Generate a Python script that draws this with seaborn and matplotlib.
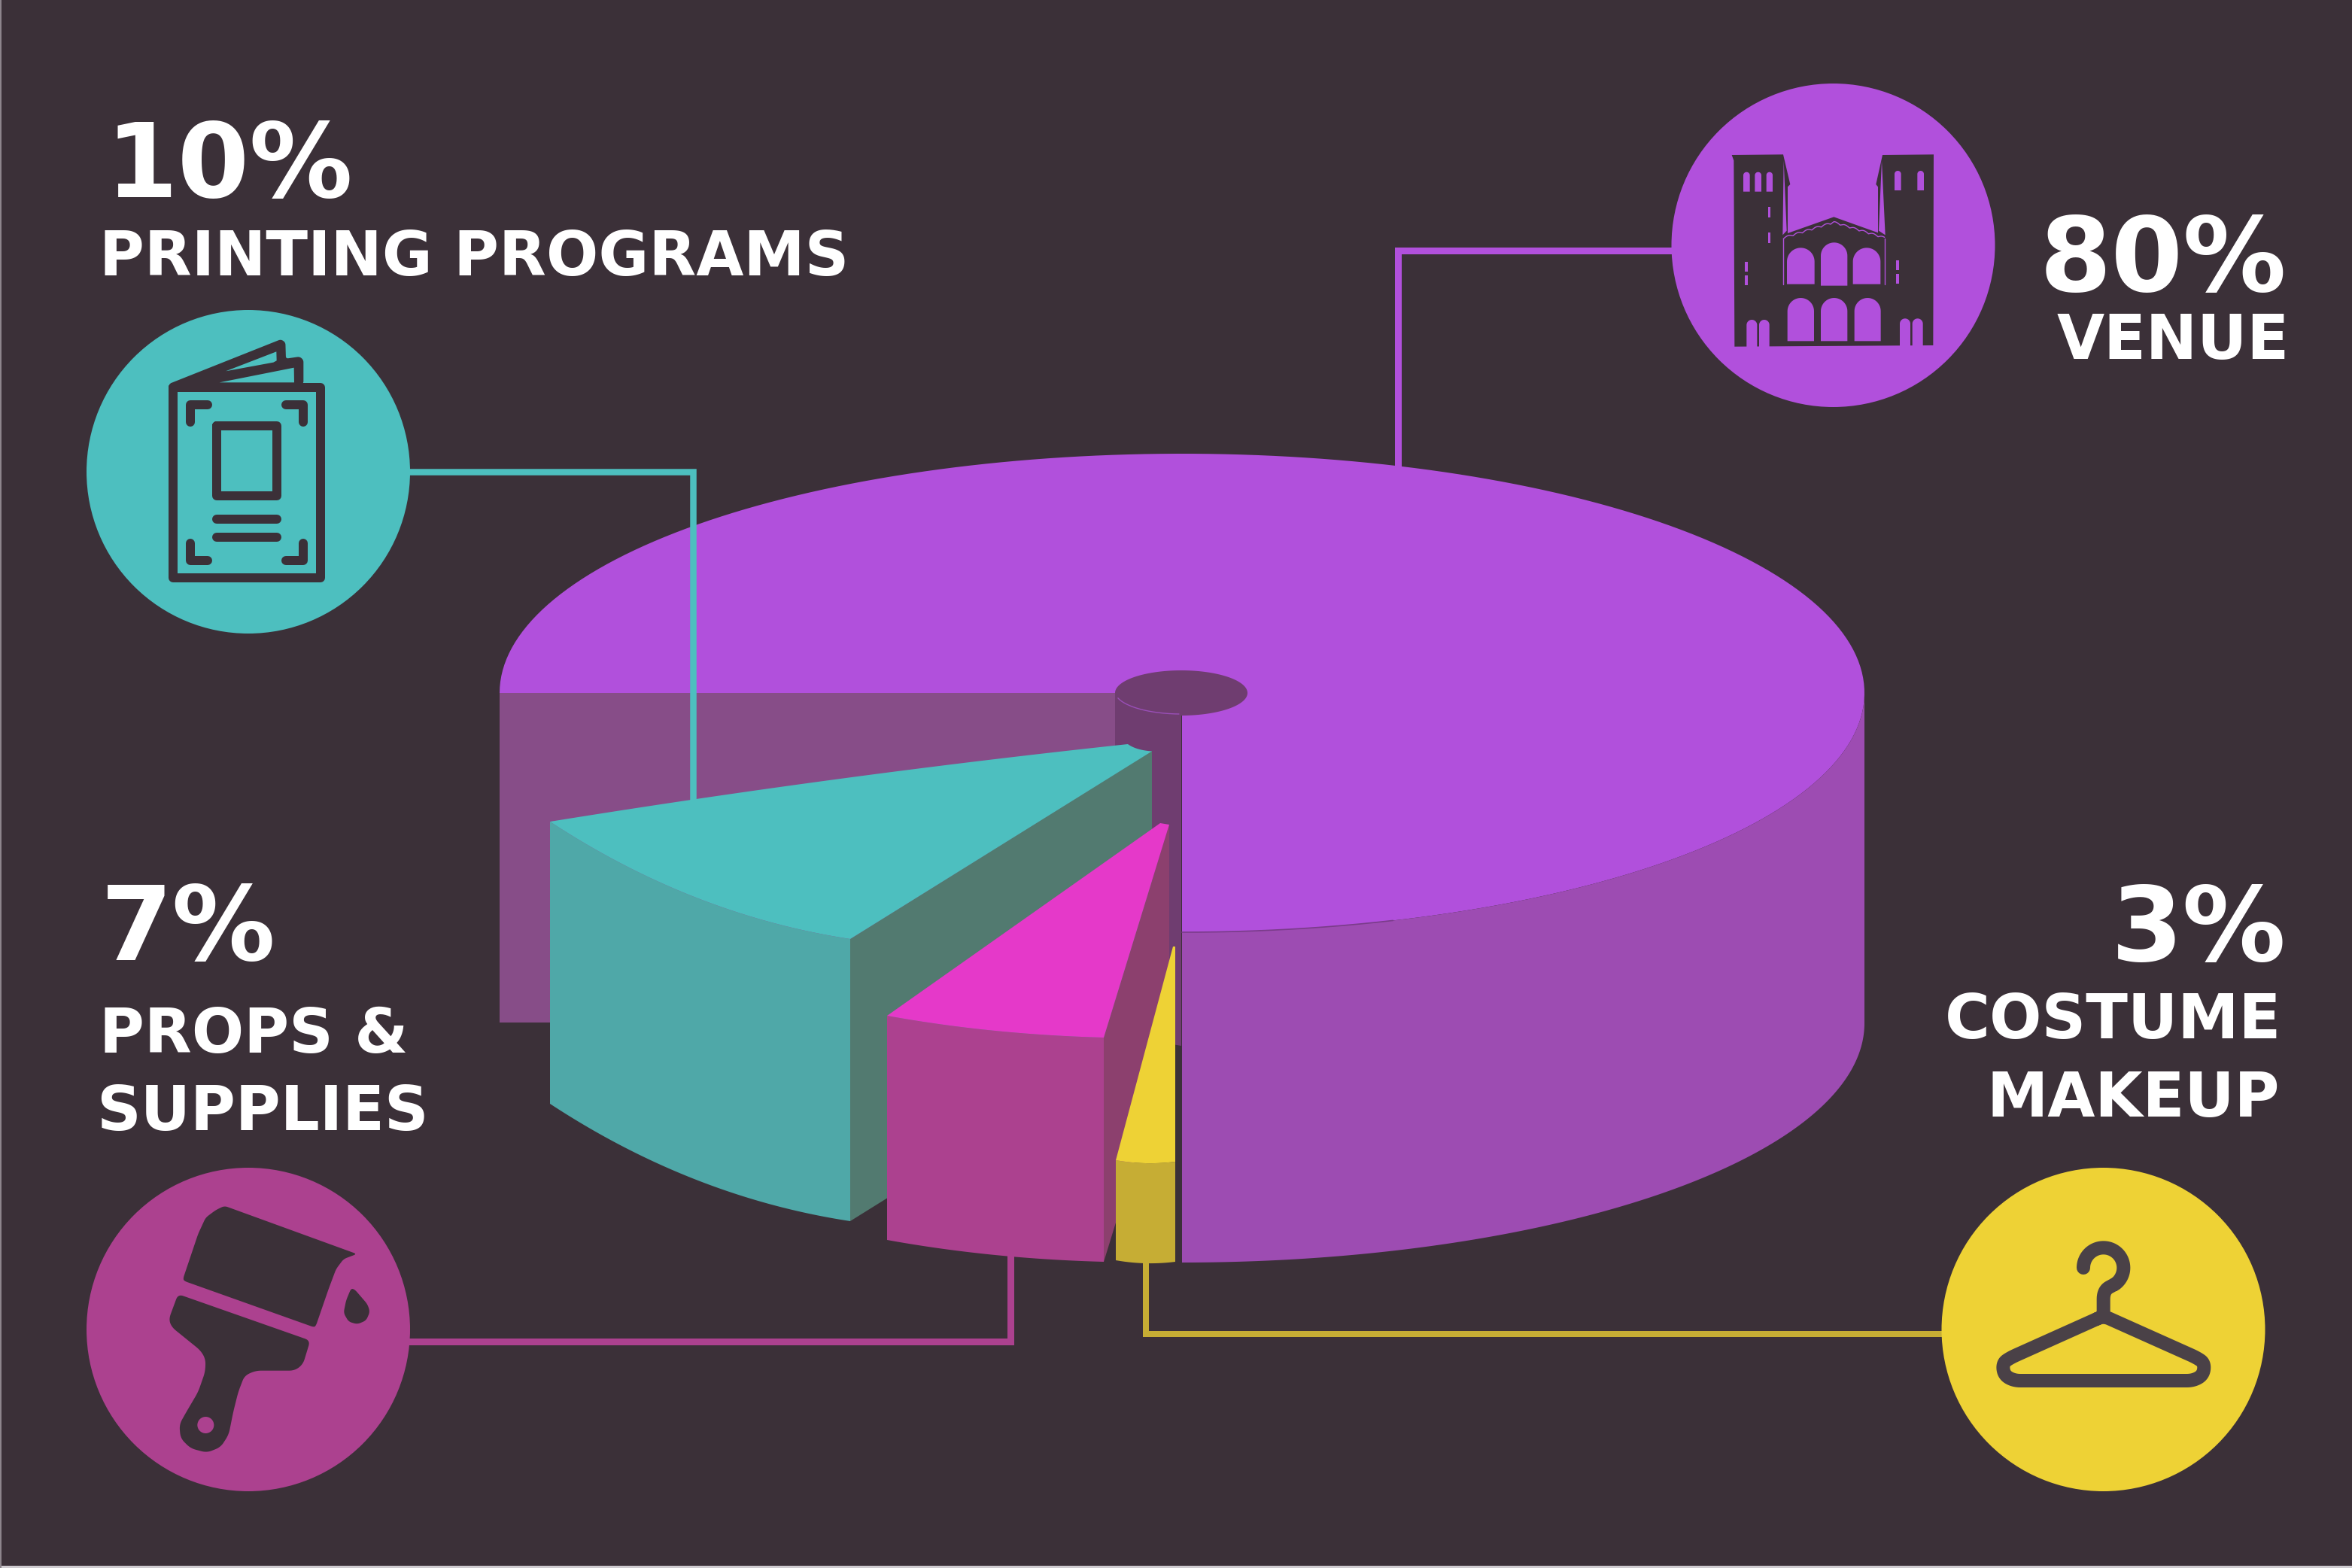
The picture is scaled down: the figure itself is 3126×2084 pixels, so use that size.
import numpy as np
import pandas as pd
import matplotlib.pyplot as plt
import seaborn as sns
from matplotlib.patches import Circle

# chart values
categories = ['VENUE', 'PRINTING PROGRAMS', 'PROPS & SUPPLIES', 'COSTUME MAKEUP']
shares = [80, 10, 7, 3]

BG = '#3b3038'
colors = {'VENUE': '#b150dc', 'PRINTING PROGRAMS': '#4dbfbf',
          'PROPS & SUPPLIES': '#ac418f', 'COSTUME MAKEUP': '#eed235'}

sns.set_theme(style='white')
plt.rcParams['font.family'] = ['DejaVu Sans']

fig = plt.figure(figsize=(15.63, 10.42), dpi=200, facecolor=BG)
ax = fig.add_axes([0, 0, 1, 1])
ax.set_facecolor(BG)


def ell(cx, cy, rx, ry, a0, a1, n=200):
    t = np.radians(np.linspace(a0, a1, n))
    return np.column_stack([cx + rx * np.cos(t), cy - ry * np.sin(t)])


def bez(p0, c, p1, n=60):
    t = np.linspace(0, 1, n)[:, None]
    return (1 - t) ** 2 * np.array(p0) + 2 * t * (1 - t) * np.array(c) + t ** 2 * np.array(p1)


def poly(pts, color, z):
    pts = np.asarray(pts, float)
    ax.fill(pts[:, 0], pts[:, 1], color=color, lw=0, zorder=z)


def rounded(pts, r, closed=True):
    # round every corner of a polyline with a small quadratic curve
    pts = np.asarray(pts, float)
    n = len(pts)
    out = []
    for i in range(n):
        if not closed and i in (0, n - 1):
            out.append(pts[i][None, :])
            continue
        p, a, b = pts[i], pts[i - 1], pts[(i + 1) % n]
        d0 = min(r, np.linalg.norm(a - p) / 2)
        d1 = min(r, np.linalg.norm(b - p) / 2)
        p0 = p + (a - p) / np.linalg.norm(a - p) * d0
        p1 = p + (b - p) / np.linalg.norm(b - p) * d1
        out.append(bez(p0, p, p1, 10))
    res = np.vstack(out)
    return np.vstack([res, res[:1]]) if closed else res


def leader(xs, ys, color, width, z):
    ax.plot(xs, ys, color=color, lw=width * 72 / 200, zorder=z,
            solid_joinstyle='miter', solid_capstyle='butt')


def stroke(pts, color, width, z=22):
    ax.plot(*np.asarray(pts).T, color=color, lw=width * 72 / 200, zorder=z,
            solid_capstyle='round', solid_joinstyle='round')


# --- venue (the big piece with the open quarter) ---
CX, CY, RX, RY, DEPTH = 1571, 921, 907, 318, 439
leader([2436, 1858, 1858], [332.5, 332.5, 640], colors['VENUE'], 9, 1)
poly([(664, CY), (1482, CY), (1482, 1359), (664, 1359)], '#874d88', 2)
poly([(1482, CY), (1570, CY), (1570, 1390), (1482, 1375)], '#6f3d70', 2)
top = ell(CX, CY, RX, RY, 180, -90)
poly(np.vstack([top, [(CX, CY)]]), colors['VENUE'], 3)
rim = ell(CX, CY, RX, RY, 0, -90)
poly(np.vstack([rim, rim[::-1] + [0, DEPTH]]), '#9d4cb2', 3)
ax.plot(*ell(CX, CY, RX, RY, -72, -90).T, color='#7a3c8a', lw=0.6, zorder=3.1)
hole = ell(CX - 1, CY, 88, 30, 0, 360)
poly(hole, '#6f3d70', 3.2)
poly([(1482, CY), (1570, CY), (1570, 1100), (1482, 1100)], '#6f3d70', 3.1)
ax.plot(*ell(CX - 1, CY - 2, 88, 30, 197, 268).T, color='#9a4fb8', lw=0.5, zorder=3.3)

# --- printing programs ---
leader([330, 920.5, 920.5], [627, 627, 1075], colors['PRINTING PROGRAMS'], 8.5, 4)
H = 375
poly([(1130, 1248), (1531, 998), (1531, 998 + H), (1130, 1248 + H)], '#527a70', 5)
front = bez((731, 1092), (920, 1216), (1130, 1248))
poly(np.vstack([front, front[::-1] + [0, H]]), '#4fa8a8', 5.1)
edge = np.vstack([bez((731, 1092), (1115, 1030), (1499, 989)), bez((1499, 989), (1510, 997), (1531, 998.5))])
poly(np.vstack([front, edge[::-1]]), colors['PRINTING PROGRAMS'], 5.2)

# --- props & supplies ---
leader([330, 1343, 1343], [1782.5, 1782.5, 1660], colors['PROPS & SUPPLIES'], 9, 6)
H = 298
poly([(1467, 1379), (1554, 1096), (1554, 1096 + H), (1467, 1379 + H)], '#8c406e', 7)
front = bez((1179, 1350), (1317, 1375), (1467, 1379))
poly(np.vstack([front, front[::-1] + [0, H]]), colors['PROPS & SUPPLIES'], 7.1)
poly(np.vstack([front, [(1554, 1096), (1542, 1094)]]), '#e539c9', 7.2)

# --- costume makeup ---
leader([2795, 1522.5, 1522.5], [1773, 1773, 1670], '#c6ad34', 8, 8)
H = 133
front = bez((1483, 1542), (1522, 1549), (1562, 1544))
poly(np.vstack([front, front[::-1] + [0, H]]), '#c6ad34', 9)
poly(np.vstack([front, [(1562, 1258), (1559, 1258)]]), colors['COSTUME MAKEUP'], 9.1)

# --- round badges ---
badges = pd.DataFrame({'category': categories,
                       'x': [2436.5, 330, 330, 2795.5],
                       'y': [326, 627, 1767, 1767]})
sns.scatterplot(data=badges, x='x', y='y', hue='category', palette=colors,
                s=(430 * 72 / 200) ** 2, linewidth=0, legend=False, ax=ax, zorder=20)


# --- building icon ---
def bz(pts):
    return np.asarray(pts, float) / 3 + [2200, 80]


def arch(x0, x1, y0, y1, z=22):
    r = (x1 - x0) / 2
    a = ell((x0 + x1) / 2, y0 + r, r, r, 180, 0, 30)
    poly(bz(np.vstack([[(x0, y1)], a, [(x1, y1)]])), colors['VENUE'], z)


poly(bz([(305, 378), (510, 376), (538, 495), (528, 505), (528, 690), (712, 625), (888, 688), (888, 505),
         (880, 495), (906, 378), (1110, 376), (1108, 1137), (316, 1142), (313, 400)]), BG, 21)
poly(bz([(512, 400), (524, 680), (508, 697)]), colors['VENUE'], 22)
poly(bz([(903, 400), (891, 680), (917, 697)]), colors['VENUE'], 22)
for w in [(351, 377, 446, 524), (397, 423, 446, 524), (443, 468, 446, 524), (954, 980, 441, 519),
          (1045, 1071, 441, 519), (525, 635, 748, 893), (660, 766, 727, 899), (788, 898, 748, 893),
          (527, 633, 948, 1120), (660, 766, 948, 1120), (794, 899, 948, 1120),
          (364, 406, 1035, 1146), (414, 455, 1035, 1146), (975, 1017, 1030, 1141), (1025, 1067, 1030, 1141)]:
    arch(*w)
for x0, x1, y0, y1 in [(450, 460, 585, 626), (450, 460, 688, 729), (358, 369, 804, 843), (358, 369, 859, 898),
                       (960, 971, 799, 837), (960, 971, 853, 890)]:
    poly(bz([(x0, y0), (x1, y0), (x1, y1), (x0, y1)]), colors['VENUE'], 22)
xs = np.linspace(511, 914, 500)
ys = 712 - (1 - np.abs(xs - 712.5) / 201.5) * 62 - np.abs(np.sin((xs - 511) / 12)) * 7
ax.plot(*bz(np.column_stack([xs, ys])).T, color=colors['VENUE'], lw=0.5, zorder=22)
for x in (511, 914):
    ax.plot(*bz([(x, 712), (x, 893)]).T, color=colors['VENUE'], lw=0.5, zorder=22)


# --- brochure icon ---
def br(pts):
    return np.asarray(pts, float) / 3 + [90, 390]


for s in [[(420, 375), (1008, 375), (1008, 1135), (420, 1135), (420, 375)],
          [(558, 443), (489, 443), (489, 513)], [(870, 443), (938, 443), (938, 513)],
          [(489, 997), (489, 1066), (558, 1066)], [(938, 997), (938, 1066), (870, 1066)],
          [(593, 527), (835, 527), (835, 808), (593, 808), (593, 527)],
          [(593, 899), (835, 899)], [(593, 972), (835, 972)]]:
    stroke(br(s), BG, 12)
poly(br(rounded([(405, 360), (850, 183), (868, 195), (870, 260), (925, 252), (940, 265), (940, 360),
                 (405, 380)], 10)), BG, 22)
poly(br([(630, 310), (832, 232), (833, 268), (820, 275)]), colors['PRINTING PROGRAMS'], 23)
poly(br([(605, 355), (902, 296), (903, 355)]), colors['PRINTING PROGRAMS'], 23)


# --- brush icon ---
def pb(pts):
    return np.asarray(pts, float) / 3 + [90, 1540]


bristles = [(625, 188), (1153, 380), (1100, 400), (1070, 440), (1040, 520), (990, 665), (982, 672),
            (465, 488), (460, 478), (520, 300), (550, 235), (590, 205)]
handle = [(440, 540), (967, 725), (938, 820), (905, 845), (750, 845), (705, 865), (680, 930),
          (660, 1010), (642, 1100), (610, 1150), (555, 1172), (490, 1155), (450, 1115), (445, 1060),
          (470, 1015), (520, 930), (548, 850), (550, 800), (530, 765), (415, 672), (403, 640)]
drop = [(1130, 517), (1145, 522), (1195, 580), (1205, 610), (1190, 645), (1155, 660), (1120, 650), (1100, 615),
        (1110, 565)]
poly(pb(rounded(bristles, 14)), BG, 22)
poly(pb(rounded(handle, 22)), BG, 22)
poly(pb(rounded(drop, 14)), BG, 22)
ax.add_patch(Circle(pb([(550, 1062)])[0], 11, color=colors['PROPS & SUPPLIES'], lw=0, zorder=23))


# --- hanger icon ---
def hg(pts):
    return np.asarray(pts, float) / 3 + [2570, 1540]


hook = np.vstack([ell(677, 435, 80, 80, 180, -55, 60), rounded([(723, 500), (677, 525), (677, 615)], 35, False)])
stroke(hg(hook), '#4a4147', 18)
body = [(677, 627), (1048, 793), (1080, 815), (1075, 862), (1035, 885), (320, 885), (280, 862), (275, 815), (307, 793)]
stroke(hg(rounded(body, 26)), '#4a4147', 18)

# --- labels ---
kw = dict(color='white', fontweight='bold', va='baseline', zorder=30)
BIG, SMALL = 49.4, 29.4
ax.text(141, 262, f'{shares[1]}%', ha='left', fontsize=BIG, **kw)
ax.text(132, 366, categories[1], ha='left', fontsize=SMALL, **kw)
ax.text(3039, 387, f'{shares[0]}%', ha='right', fontsize=BIG, **kw)
ax.text(3043, 477, categories[0], ha='right', fontsize=SMALL, **kw)
ax.text(134, 1276, f'{shares[2]}%', ha='left', fontsize=BIG, **kw)
ax.text(132, 1399, 'PROPS &', ha='left', fontsize=SMALL, **kw)
ax.text(128, 1502, 'SUPPLIES', ha='left', fontsize=SMALL, **kw)
ax.text(3039, 1277, f'{shares[3]}%', ha='right', fontsize=BIG, **kw)
ax.text(3032, 1380, 'COSTUME', ha='right', fontsize=SMALL, **kw)
ax.text(3030, 1484, 'MAKEUP', ha='right', fontsize=SMALL, **kw)

# light hairline along the bottom and left edges of the artwork
poly([(0, 2081), (3126, 2081), (3126, 2084), (0, 2084)], '#cfcbd0', 40)
poly([(0, 0), (1.5, 0), (1.5, 2084), (0, 2084)], '#8d858c', 40)

ax.set_xlim(0, 3126)
ax.set_ylim(2084, 0)
ax.axis('off')
fig.savefig('out.png', dpi=200, facecolor=BG)
